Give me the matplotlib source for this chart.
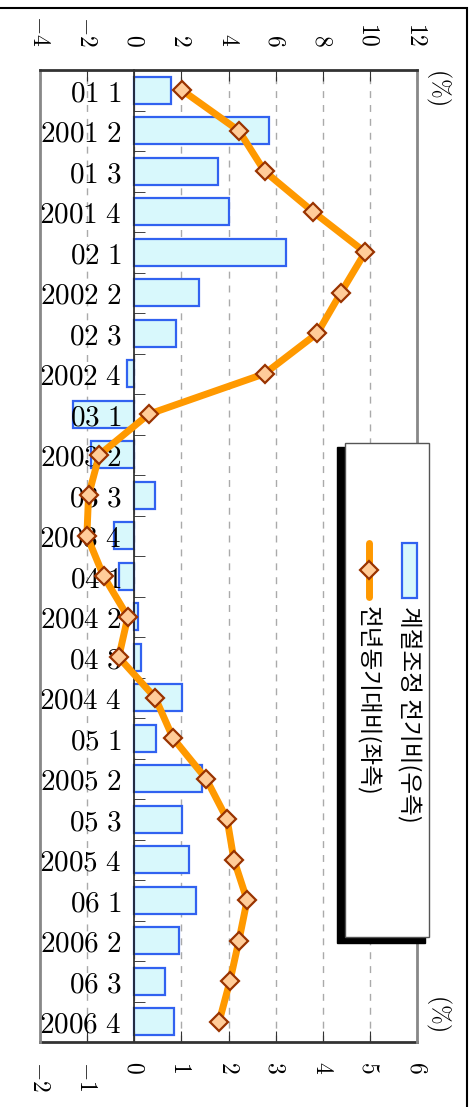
import matplotlib
matplotlib.use("Agg")
import matplotlib.pyplot as plt
from matplotlib.patches import Rectangle
from matplotlib.lines import Line2D
import numpy as np

plt.rcParams['mathtext.fontset'] = 'cm'

# quarters (top to bottom in the rotated picture)
quarters = ['01 1', '2001 2', '01 3', '2001 4', '02 1', '2002 2', '02 3', '2002 4',
            '03 1', '2003 2', '03 3', '2003 4', '04 1', '2004 2', '04 3', '2004 4',
            '05 1', '2005 2', '05 3', '2005 4', '06 1', '2006 2', '06 3', '2006 4']
# seasonally adjusted q/q (right axis, bars)
qoq = [0.78, 2.87, 1.77, 2.0, 3.23, 1.38, 0.88, -0.16,
       -1.30, -0.92, 0.43, -0.42, -0.33, 0.08, 0.14, 1.01,
       0.47, 1.44, 1.01, 1.16, 1.30, 0.94, 0.65, 0.84]
# y/y (left axis, line)
yoy = [2.03, 4.44, 5.53, 7.59, 9.8, 8.77, 7.77, 5.53,
       0.61, -1.48, -1.94, -2.01, -1.30, -0.27, -0.66, 0.89,
       1.65, 3.05, 3.94, 4.23, 4.79, 4.44, 4.06, 3.60]
bar_ticks = list(range(-2, 7))
line_ticks = list(range(-4, 13, 2))
legend_labels = ['계절조정 전기비(우측)', '전년동기대비(좌측)']

W, H = 475, 1107
BAR_FACE = '#d8f8fc'
BAR_EDGE = '#3162f0'
LINE_C = '#ff9900'
MK_FACE = '#ffcc99'
MK_EDGE = '#993300'


def fpos(x, y):
    return x / W, 1 - y / H


def mlabel(v):
    return r'$%d$' % v


fig = plt.figure(figsize=(W / 100, H / 100), dpi=100)
ax = fig.add_axes([40 / W, 1 - 1042 / H, (417 - 40) / W, (1042 - 70) / H])
ax.set_axisbelow(False)

y = np.arange(len(quarters))
# dashed grid behind the bars, tick labels above them
for t in bar_ticks:
    ax.axvline(t, color='#aaaaaa', linestyle=(0, (5, 5)), linewidth=1, zorder=0)
ax.barh(y, qoq, height=0.66, color=BAR_FACE, edgecolor=BAR_EDGE, linewidth=1.6, zorder=1)
ax.set_xlim(-2, 6)
ax.set_ylim(len(quarters) - 0.5, -0.5)

ax.set_xticks(bar_ticks)
ax.set_xticklabels([mlabel(v) for v in bar_ticks], rotation=-90, fontsize=17)
ax.tick_params(axis='x', direction='in', length=8, pad=14, color='#333333')

ax.spines['left'].set_position(('data', 0))
ax.spines['left'].set_color('#222222')
ax.spines['left'].set_linewidth(1.2)
ax.set_yticks(y)
ax.set_yticklabels([r'$%s$' % q.replace(' ', r'\ ') for q in quarters], fontsize=21)
ax.tick_params(axis='y', which='major', length=0, pad=9)
ax.set_yticks(y[:-1] + 0.5, minor=True)
ax.tick_params(axis='y', which='minor', direction='in', length=8, color='#222222')
ax.spines['bottom'].set_color('#333333')
ax.spines['bottom'].set_linewidth(2)
ax.spines['top'].set_visible(False)
ax.spines['right'].set_visible(False)

ax2 = ax.twiny()
ax2.plot(yoy, y, color=LINE_C, linewidth=5, marker='D', markersize=9.5,
         markerfacecolor=MK_FACE, markeredgecolor=MK_EDGE, markeredgewidth=1.6,
         solid_joinstyle='round', zorder=3)
ax2.set_xlim(-4, 12)
ax2.set_ylim(len(quarters) - 0.5, -0.5)
ax2.set_xticks(line_ticks)
ax2.set_xticklabels([mlabel(v) for v in line_ticks], rotation=-90, fontsize=17)
ax2.tick_params(axis='x', direction='in', length=8, pad=17, color='#333333')
ax2.spines['top'].set_color('#333333')
ax2.spines['top'].set_linewidth(2)
ax2.spines['left'].set_color('#888888')
ax2.spines['left'].set_linewidth(2)
ax2.spines['right'].set_color('#888888')
ax2.spines['right'].set_linewidth(2)
ax2.spines['bottom'].set_visible(False)

# unit labels
for yy in (87, 1013):
    fig.text(*fpos(439, yy), r'$(\%)$', rotation=-90, fontsize=17, ha='center', va='center')

# legend drawn by hand (rotated)
x0, y0 = fpos(337, 447)
x1, y1 = fpos(425, 943)
fig.patches.append(Rectangle((x0, y1), x1 - x0, y0 - y1, transform=fig.transFigure,
                             facecolor='black', edgecolor='black', zorder=5))
x0, y0 = fpos(345, 443)
x1, y1 = fpos(429, 937)
fig.patches.append(Rectangle((x0, y1), x1 - x0, y0 - y1, transform=fig.transFigure,
                             facecolor='white', edgecolor='#555555', linewidth=1, zorder=6))
bx0, by0 = fpos(402, 543)
bx1, by1 = fpos(417, 598)
fig.patches.append(Rectangle((bx0, by1), bx1 - bx0, by0 - by1, transform=fig.transFigure,
                             facecolor=BAR_FACE, edgecolor=BAR_EDGE, linewidth=1.6, zorder=7))
lx, ly0 = fpos(369, 543)
_, ly1 = fpos(369, 597)
fig.lines.append(Line2D([lx, lx], [ly0, ly1], transform=fig.transFigure, color=LINE_C,
                        linewidth=5, solid_capstyle='round', zorder=7))
fig.lines.append(Line2D([lx], [(ly0 + ly1) / 2], transform=fig.transFigure, marker='D',
                        markersize=9.5, markerfacecolor=MK_FACE, markeredgecolor=MK_EDGE,
                        markeredgewidth=1.6, zorder=8))
for xx, lab in zip((409, 368), legend_labels):
    fig.text(*fpos(xx, 606), lab, rotation=-90, fontsize=17, ha='center', va='top',
             family=['Noto Sans CJK KR', 'DejaVu Sans'], zorder=9)

# outer frame
fx, fy = fpos(467, 8)
fig.patches.append(Rectangle((-0.01, -0.01), fx + 0.01, fy + 0.01, transform=fig.transFigure,
                             fill=False, edgecolor='black', linewidth=1.5, zorder=10))

fig.savefig('out.png', dpi=100)
